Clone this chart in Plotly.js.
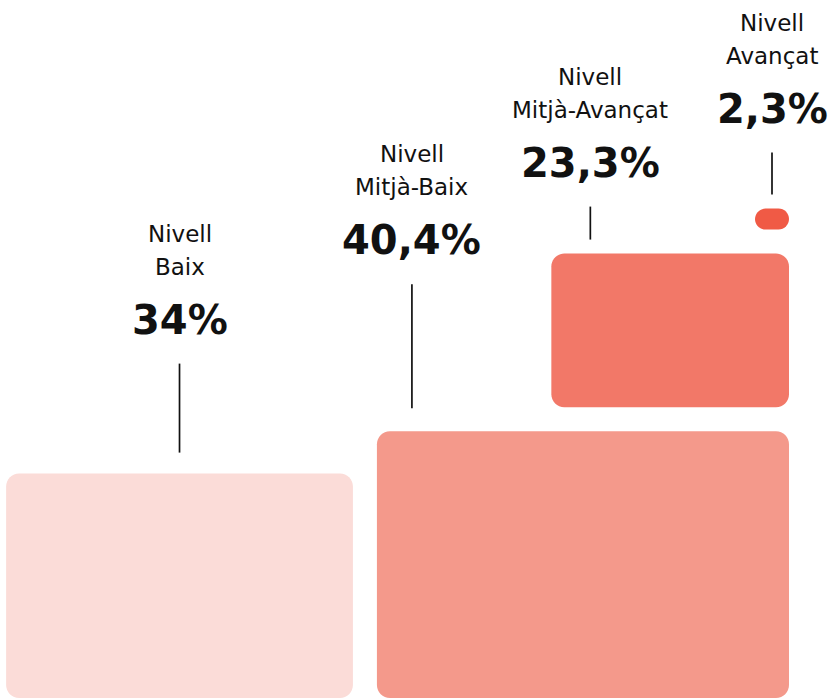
<!DOCTYPE html>
<html>
<head>
<meta charset="utf-8">
<script src="https://cdn.plot.ly/plotly-3.0.1.min.js"></script>
<style>html,body{margin:0;padding:0;background:#fff;}#chart{width:830px;height:699px;}</style>
</head>
<body>
<div id="chart"></div>
<script>
// ---- data ----
const categories = ["Nivell<br>Baix", "Nivell<br>Mitjà-Baix", "Nivell<br>Mitjà-Avançat", "Nivell<br>Avançat"];
const values = [34, 40.4, 23.3, 2.3];
const valueLabels = ["34%", "40,4%", "23,3%", "2,3%"];
const colors = ["#FBDCD8", "#F4998B", "#F27868", "#F05A45"];

// ---- layout config (pixel-like axis units) ----
const W = 830, H = 699;
const kx = 10.2, ky = 6.6;          // size per percentage point
const minW = 34, minH = 21;
const gap = 24, rightEdge = 789, baseY = 698, radius = 13;
// label placement: x offset from rect left (null = centered), line gap and length
const labelOffsetX = [null, 35, 39, null];
const lineGap = [21, 23, 14, 14];
const lineLen = [89, 124, 33, 42];

// compute rectangles
const rects = values.map(v => ({w: Math.max(v * kx, minW), h: Math.max(v * ky, minH)}));
rects[1].x1 = rightEdge; rects[1].x0 = rightEdge - rects[1].w; rects[1].y1 = baseY; rects[1].y0 = baseY - rects[1].h;
rects[0].x1 = rects[1].x0 - gap; rects[0].x0 = rects[0].x1 - rects[0].w; rects[0].y1 = baseY; rects[0].y0 = baseY - rects[0].h;
rects[2].x1 = rightEdge; rects[2].x0 = rightEdge - rects[2].w; rects[2].y1 = rects[1].y0 - gap; rects[2].y0 = rects[2].y1 - rects[2].h;
rects[3].x1 = rightEdge; rects[3].x0 = rightEdge - rects[3].w; rects[3].y1 = rects[2].y0 - gap; rects[3].y0 = rects[3].y1 - rects[3].h;

function roundedPath(r, rad) {
  rad = Math.min(rad, r.h / 2, r.w / 2);
  const k = 0.5523 * rad;
  const {x0, x1, y0, y1} = r;
  return `M ${x0 + rad},${y0} L ${x1 - rad},${y0} ` +
    `C ${x1 - rad + k},${y0} ${x1},${y0 + rad - k} ${x1},${y0 + rad} ` +
    `L ${x1},${y1 - rad} C ${x1},${y1 - rad + k} ${x1 - rad + k},${y1} ${x1 - rad},${y1} ` +
    `L ${x0 + rad},${y1} C ${x0 + rad - k},${y1} ${x0},${y1 - rad + k} ${x0},${y1 - rad} ` +
    `L ${x0},${y0 + rad} C ${x0},${y0 + rad - k} ${x0 + rad - k},${y0} ${x0 + rad},${y0} Z`;
}

const shapes = [];
const annotations = [];
rects.forEach((r, i) => {
  shapes.push({type: 'path', xref: 'x', yref: 'y', path: roundedPath(r, radius),
    fillcolor: colors[i], line: {width: 0}, layer: 'below'});
  const lx = labelOffsetX[i] === null ? (r.x0 + r.x1) / 2 : r.x0 + labelOffsetX[i];
  const lb = r.y0 - lineGap[i];
  const lt = lb - lineLen[i];
  shapes.push({type: 'line', xref: 'x', yref: 'y', x0: lx, x1: lx, y0: lb, y1: lt,
    line: {color: '#111', width: 1.7}});
  const vy = lt - 44;
  annotations.push({xref: 'x', yref: 'y', x: lx, y: vy, text: '<b>' + valueLabels[i] + '</b>',
    showarrow: false, xanchor: 'center', yanchor: 'middle',
    font: {family: 'DejaVu Sans', size: 40, color: '#111'}});
  const lines = categories[i].split('<br>');
  lines.forEach((t, j) => {
    annotations.push({xref: 'x', yref: 'y', x: lx, y: vy - 53 - 33 * (lines.length - 1 - j), text: t,
      showarrow: false, xanchor: 'center', yanchor: 'middle',
      font: {family: 'DejaVu Sans', size: 23, color: '#111'}});
  });
});

const trace = {
  type: 'scatter', mode: 'markers',
  x: rects.map(r => (r.x0 + r.x1) / 2), y: rects.map(r => (r.y0 + r.y1) / 2),
  marker: {opacity: 0}, hoverinfo: 'text',
  text: categories.map((c, i) => c.replace('<br>', ' ') + ': ' + valueLabels[i]),
  showlegend: false
};

const layout = {
  width: W, height: H,
  margin: {l: 0, r: 0, t: 0, b: 0},
  paper_bgcolor: '#fff', plot_bgcolor: '#fff',
  xaxis: {range: [0, W], visible: false, fixedrange: true},
  yaxis: {range: [H, 0], visible: false, fixedrange: true},
  shapes: shapes, annotations: annotations, showlegend: false
};

Plotly.newPlot('chart', [trace], layout, {displayModeBar: false, staticPlot: true});
</script>
</body>
</html>
